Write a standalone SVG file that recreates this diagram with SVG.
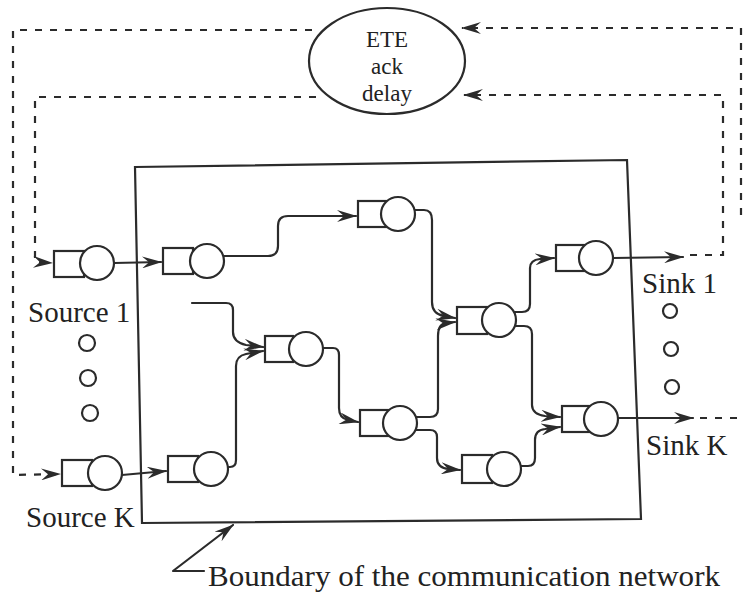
<svg xmlns="http://www.w3.org/2000/svg" width="744" height="607" viewBox="0 0 744 607">
<style>
.ln{fill:none;stroke:#2b2b2b;stroke-width:2.2;stroke-linejoin:round;stroke-linecap:round}
.dash{fill:none;stroke:#2b2b2b;stroke-width:2.2;stroke-dasharray:7 8}
.q{fill:#fff;stroke:#2b2b2b;stroke-width:2.2}
.dot{fill:none;stroke:#2b2b2b;stroke-width:2.2}
.t{font-family:"Liberation Serif","Times New Roman",serif;font-size:29px;fill:#222}
.e{font-family:"Liberation Serif","Times New Roman",serif;font-size:23px;fill:#222}
</style>
<defs>
<marker id="arr" markerUnits="userSpaceOnUse" markerWidth="20" markerHeight="12" viewBox="0 0 20 12" refX="19" refY="6" orient="auto">
<path d="M0,0 L20,6 L0,12 L7,6 z" fill="#2b2b2b"/>
</marker>
</defs>
<rect width="744" height="607" fill="#fff"/>

<g id="boundary">
<polygon points="135,167 627,160 641,519 142,523" fill="none" stroke="#2b2b2b" stroke-width="2.2"/>
</g>

<g id="connectors">
<path class="ln" d="M114,263 L161,262" marker-end="url(#arr)"/>
<path class="ln" d="M223,256 H268 Q278,256 278,246 V226 Q278,216 288,216 H356" marker-end="url(#arr)"/>
<path class="ln" d="M414,210 H424 Q432,210 432,220 V302 Q432,314 444,316 L455,318" marker-end="url(#arr)"/>
<path class="ln" d="M416,417 H430 Q438,417 438,409 V336 Q438,324 446,323 L455,322" marker-end="url(#arr)"/>
<path class="ln" d="M122,475 L166,471" marker-end="url(#arr)"/>
<path class="ln" d="M228,467 H230 Q236,467 236,460 V366 Q236,356 246,354 L263,351" marker-end="url(#arr)"/>
<path class="ln" d="M192,303 H226 Q233,303 233,310 V332 Q233,342 246,345 L263,347" marker-end="url(#arr)"/>
<path class="ln" d="M323,348 H333 Q339,348 339,355 V408 Q339,418 348,420 L358,422" marker-end="url(#arr)"/>
<path class="ln" d="M416,430 H430 Q437,430 437,437 V458 Q437,468 449,469 L460,470" marker-end="url(#arr)"/>
<path class="ln" d="M521,466 H528 Q535,466 535,458 V440 Q535,430 545,429 L560,427" marker-end="url(#arr)"/>
<path class="ln" d="M516,326 H524 Q532,326 532,334 V405 Q532,414 545,416 L560,417" marker-end="url(#arr)"/>
<path class="ln" d="M515,312 H522 Q530,312 530,304 V268 Q530,260 540,259 L554,258" marker-end="url(#arr)"/>
<path class="ln" d="M613,258 L683,257" marker-end="url(#arr)"/>
<path class="ln" d="M618,418 L693,418" marker-end="url(#arr)"/>
<path class="ln" d="M204,571 H173 L233,525" marker-end="url(#arr)"/>
<path class="dash" d="M690,255 H723 V95 H464" marker-end="url(#arr)"/>
<path class="dash" d="M316,97 H35 V262 L52,263" marker-end="url(#arr)"/>
<path class="dash" d="M741,215 V28 H462" marker-end="url(#arr)"/>
<path class="dash" d="M312,30 H13 V475 L60,474" marker-end="url(#arr)"/>
<path class="dash" d="M700,418 H744"/>
</g>

<g id="ete">
<ellipse cx="387" cy="61" rx="78" ry="53" fill="none" stroke="#2b2b2b" stroke-width="2.2"/>
<text class="e" x="387" y="47" text-anchor="middle">ETE</text>
<text class="e" x="387" y="74" text-anchor="middle">ack</text>
<text class="e" x="387" y="101" text-anchor="middle">delay</text>
</g>

<g id="source1"><rect class="q" x="54" y="251" width="30" height="26"/><circle class="q" cx="97" cy="263" r="17"/></g>
<g id="sourceK"><rect class="q" x="62" y="460" width="30" height="26"/><circle class="q" cx="105" cy="473" r="17"/></g>
<g id="nodeA"><rect class="q" x="163" y="248" width="30" height="26"/><circle class="q" cx="207" cy="261" r="17"/></g>
<g id="nodeB"><rect class="q" x="358" y="201" width="28" height="26"/><circle class="q" cx="398" cy="214" r="17"/></g>
<g id="nodeC"><rect class="q" x="265" y="336" width="28" height="26"/><circle class="q" cx="306" cy="349" r="17"/></g>
<g id="nodeD"><rect class="q" x="457" y="307" width="30" height="27"/><circle class="q" cx="499" cy="320" r="17"/></g>
<g id="nodeE"><rect class="q" x="360" y="410" width="28" height="26"/><circle class="q" cx="400" cy="423" r="17"/></g>
<g id="nodeF"><rect class="q" x="462" y="455" width="30" height="28"/><circle class="q" cx="504" cy="469" r="17"/></g>
<g id="nodeG"><rect class="q" x="556" y="245" width="28" height="26"/><circle class="q" cx="596" cy="258" r="17"/></g>
<g id="nodeH"><rect class="q" x="562" y="406" width="28" height="26"/><circle class="q" cx="601" cy="419" r="17"/></g>
<g id="nodeI"><rect class="q" x="168" y="456" width="30" height="26"/><circle class="q" cx="211" cy="469" r="17"/></g>

<g id="ellipsis-left">
<circle class="dot" cx="87" cy="343" r="8"/>
<circle class="dot" cx="88" cy="378" r="8"/>
<circle class="dot" cx="90" cy="413" r="8"/>
</g>
<g id="ellipsis-right">
<circle class="dot" cx="670" cy="311" r="7"/>
<circle class="dot" cx="671" cy="349" r="7"/>
<circle class="dot" cx="672" cy="387" r="7"/>
</g>

<g id="labels">
<text class="t" x="28" y="322">Source 1</text>
<text class="t" x="26" y="527">Source K</text>
<text class="t" x="642" y="293">Sink 1</text>
<text class="t" x="646" y="455">Sink K</text>
<text class="t" x="208" y="586" textLength="512" lengthAdjust="spacingAndGlyphs">Boundary of the communication network</text>
</g>
</svg>
